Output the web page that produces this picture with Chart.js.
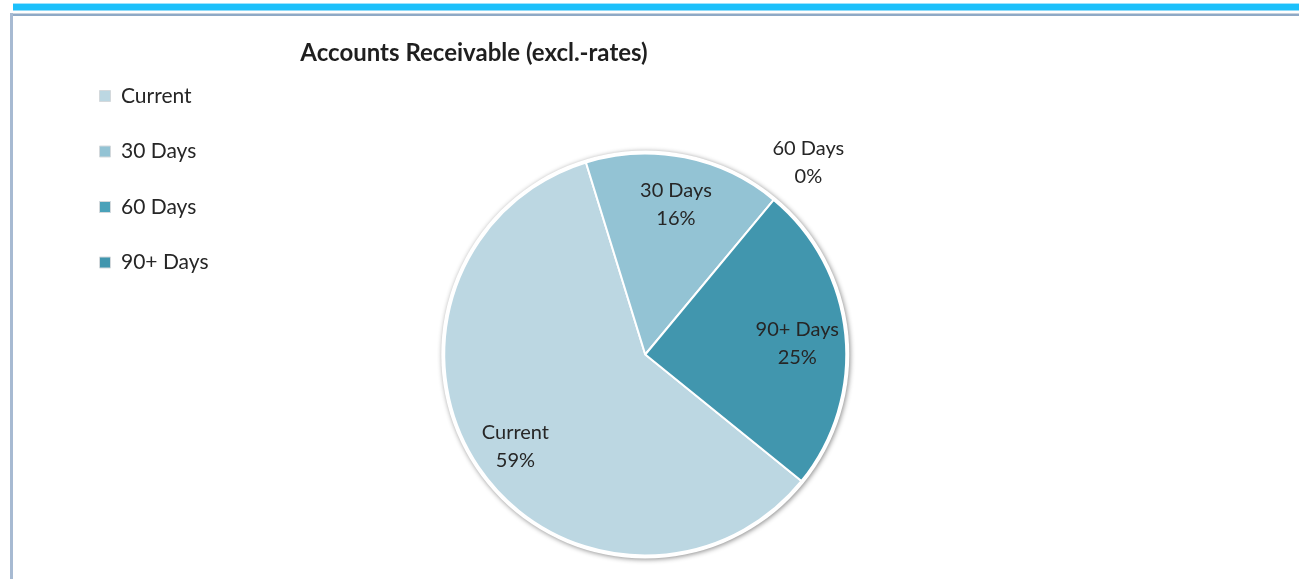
<!DOCTYPE html>
<html>
<head>
<meta charset="utf-8">
<script src="https://cdn.jsdelivr.net/npm/chart.js@4/dist/chart.umd.min.js"></script>
<style>
  html, body { margin: 0; padding: 0; background: #fff; overflow: hidden; }
  #page { position: relative; width: 1299px; height: 579px; overflow: hidden; }
  #topbar { position: absolute; left: 13px; top: 3px; right: 0; height: 8px; background: #1cc0fb; border-top: 1px solid #9fe3fd; border-bottom: 1px solid #8fdcfb; box-sizing: border-box; }
  #frameTop { position: absolute; left: 10px; top: 13px; right: 0; height: 3px; background: #8fa9c6; border-top: 1px solid #c9d3de; box-sizing: border-box; }
  #frameLeft { position: absolute; left: 10px; top: 13px; width: 3px; bottom: 0; background: #a7bad2; }
  #wrap { position: absolute; left: 13px; top: 16px; width: 1286px; height: 563px; overflow: hidden; }
</style>
</head>
<body>
<div id="page">
  <div id="topbar"></div>
  <div id="frameTop"></div>
  <div id="frameLeft"></div>
  <div id="wrap"><canvas id="chart1" width="1286" height="700"></canvas></div>
</div>
<script>
let chartTitle = 'Accounts Receivable (excl.-rates)'
let labels = ['Current', '30 Days', '60 Days', '90+ Days']
let shares = [59.4, 15.8, 0, 24.8]
let colors = ['#bcd7e2', '#93c3d4', '#4aa1b9', '#4196ae']

let fontName = 'Lato, "Open Sans", sans-serif'

// grey rim round the pie, like the excel shadow
let pieShadow = {
    id: 'pieShadow',
    beforeDatasetsDraw: function (chart) {
        let arc = chart.getDatasetMeta(0).data[0]
        if (!arc) return
        let ctx = chart.ctx
        ctx.save()
        ctx.beginPath()
        ctx.arc(arc.x, arc.y, arc.outerRadius + 3, 0, Math.PI * 2)
        ctx.fillStyle = '#ffffff'
        ctx.shadowColor = 'rgba(0,0,0,0.45)'
        ctx.shadowBlur = 5
        ctx.shadowOffsetX = 1
        ctx.shadowOffsetY = 1
        ctx.fill()
        ctx.restore()
    }
}

// slice labels: name + percent, pulled in until the text fits in the pie
let sliceLabels = {
    id: 'sliceLabels',
    afterDatasetsDraw: function (chart) {
        let ctx = chart.ctx
        let data = chart.data.datasets[0].data
        let total = data.reduce((a, b) => a + b, 0)
        ctx.save()
        ctx.font = '20px ' + fontName
        ctx.fillStyle = '#262626'
        ctx.textAlign = 'center'
        ctx.textBaseline = 'middle'
        chart.getDatasetMeta(0).data.forEach(function (arc, i) {
            let p = arc.getProps(['x', 'y', 'startAngle', 'endAngle', 'outerRadius'], true)
            let mid = (p.startAngle + p.endAngle) / 2
            let name = chart.data.labels[i]
            let pct = Math.round(data[i] / total * 100) + '%'
            let hw = Math.max(ctx.measureText(name).width, ctx.measureText(pct).width) / 2
            let hh = 22
            let k = data[i] === 0 ? 1.27 : 0.78
            if (data[i] !== 0) {
                let limit = p.outerRadius * 0.985
                while (k > 0.4) {
                    let cx = Math.cos(mid) * p.outerRadius * k
                    let cy = Math.sin(mid) * p.outerRadius * k
                    let far = Math.hypot(Math.abs(cx) + hw, Math.abs(cy) + hh)
                    if (far <= limit) break
                    k -= 0.005
                }
            }
            let x = p.x + Math.cos(mid) * p.outerRadius * k
            let y = p.y + Math.sin(mid) * p.outerRadius * k + 4
            ctx.fillText(name, x, y - 14)
            ctx.fillText(pct, x, y + 14)
        })
        ctx.restore()
    }
}

let titleText = {
    id: 'titleText',
    afterDraw: function (chart) {
        let ctx = chart.ctx
        ctx.save()
        ctx.font = 'bold 24px ' + fontName
        ctx.fillStyle = '#1f1f1f'
        ctx.textAlign = 'center'
        ctx.textBaseline = 'middle'
        ctx.fillText(chartTitle, 461, 37)
        ctx.restore()
    }
}

let ctx = document.getElementById('chart1').getContext('2d')
let myChart = new Chart(ctx, {
    type: 'pie',
    data: {
        labels: labels,
        datasets: [{
            data: shares,
            backgroundColor: colors,
            borderColor: '#ffffff',
            borderWidth: 2,
            radius: 201
        }]
    },
    options: {
        responsive: false,
        animation: false,
        rotation: 129,
        layout: {
            padding: { left: 52, top: 35, right: 227, bottom: 58 }
        },
        plugins: {
            tooltip: { enabled: false },
            legend: {
                position: 'left',
                align: 'start',
                labels: {
                    boxWidth: 11,
                    boxHeight: 11,
                    padding: 34.5,
                    color: '#262626',
                    font: { family: fontName, size: 21 },
                    generateLabels: function (chart) {
                        let items = Chart.overrides.pie.plugins.legend.labels.generateLabels(chart)
                        items.forEach(function (it) {
                            it.lineWidth = 1
                            it.strokeStyle = '#d4d9dc'
                        })
                        return items
                    }
                }
            }
        }
    },
    plugins: [pieShadow, sliceLabels, titleText]
})
</script>
</body>
</html>
